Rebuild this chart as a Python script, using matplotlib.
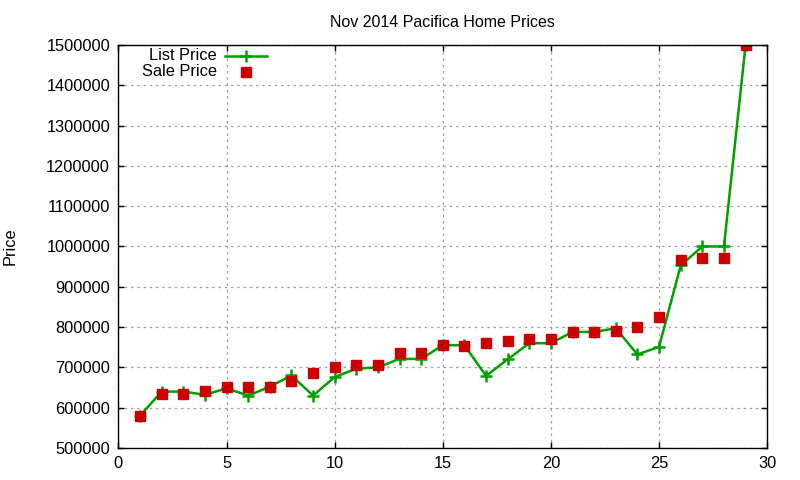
import matplotlib
matplotlib.use("Agg")
import matplotlib.pyplot as plt

plt.rcParams['font.family'] = ['Liberation Sans', 'DejaVu Sans']

homes = list(range(1, 30))
list_price = [580000, 640000, 640000, 632000, 648000, 630000, 652000, 680000, 630000, 676000,
              697000, 700000, 721000, 721000, 755000, 755000, 679000, 720000, 760000, 760000,
              788000, 788000, 797000, 732000, 751000, 953000, 1000000, 1000000, 1500000]
sale_price = [580000, 633000, 633000, 642000, 652000, 651000, 651000, 667000, 686000, 702000,
              706000, 706000, 736000, 736000, 755000, 754000, 761000, 766000, 770000, 770000,
              789000, 789000, 791000, 801000, 826000, 966000, 971000, 971000, 1500000]
yticks = list(range(500000, 1500001, 100000))
xticks = [0, 5, 10, 15, 20, 25, 30]

green = '#00a000'
red = '#cc0000'
fs = 11.8

fig = plt.figure(figsize=(8, 4.8), dpi=100)
ax = fig.add_axes([0.148, 0.0667, 0.811, 0.8396])

ax.plot(homes, list_price, color=green, lw=1.8, marker='+', markersize=9, mew=1.8)
ax.plot(homes, sale_price, ls='none', marker='s', color=red, markersize=6.5)

ax.set_xlim(0, 30)
ax.set_ylim(500000, 1500000)
ax.set_xticks(xticks)
ax.set_yticks(yticks)
ax.set_yticklabels([str(v) for v in yticks])
ax.tick_params(direction='in', length=4, width=1, top=True, right=True, labelsize=fs, pad=6)
ax.grid(True, color='#a0a0a0', ls=(0, (2, 3)), lw=0.9)
ax.set_axisbelow(True)
for s in ax.spines.values():
    s.set_linewidth(1.0)

ax.set_title('Nov 2014 Pacifica Home Prices', fontsize=11.5, pad=13)
ax.set_ylabel('Price', fontsize=fs)
ax.yaxis.set_label_coords(-0.155, 0.5)

# legend
ax.text(0.152, 0.973, 'List Price', transform=ax.transAxes, ha='right', va='center', fontsize=fs)
ax.text(0.152, 0.933, 'Sale Price', transform=ax.transAxes, ha='right', va='center', fontsize=fs)
ax.plot([0.164, 0.229], [0.973, 0.973], transform=ax.transAxes, color=green, lw=1.8, clip_on=False)
ax.plot([0.1965], [0.973], transform=ax.transAxes, color=green, marker='+', markersize=9, mew=1.8, clip_on=False)
ax.plot([0.1965], [0.933], transform=ax.transAxes, color=red, marker='s', markersize=6.5, ls='none', clip_on=False)

fig.savefig('out.png', dpi=100)
